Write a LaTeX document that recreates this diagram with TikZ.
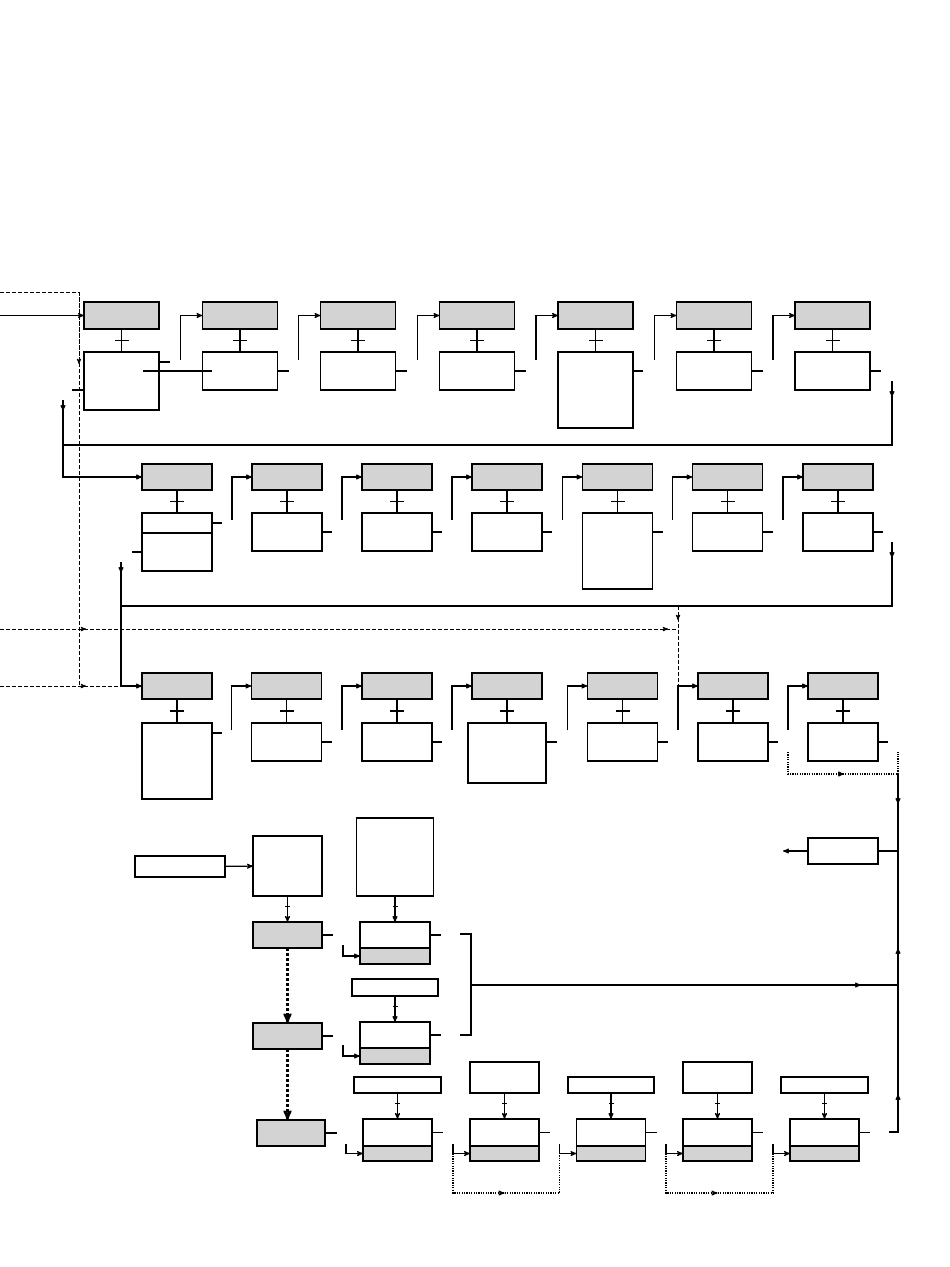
\documentclass[tikz,border=0pt]{standalone}
\usetikzlibrary{arrows}

\definecolor{gris}{HTML}{D3D3D3}
\tikzset{
  etape/.style = {draw = black, fill = gris, line width = 1.1pt, inner sep = 0pt, outer sep = 0pt},
  action/.style = {draw = black, line width = 1.1pt, inner sep = 0pt, outer sep = 0pt},
  trait/.style = {draw, line width = 1.1pt},
  barre/.style = {fill = black, minimum width = 14pt, minimum height = 1.1pt, inner sep = 0pt},
  minibarre/.style = {fill = black, minimum width = 5pt, minimum height = 1.1pt, inner sep = 0pt},
  tirets/.style = {draw, line width = 0.9pt, dash pattern = on 3.5pt off 2.5pt},
  gras/.style = {draw, line width = 2.2pt, dash pattern = on 3pt off 2pt},
  pointille/.style = {draw, line width = 1.8pt, dash pattern = on 1.2pt off 1.2pt}
}

\begin{document}
\begin{tikzpicture}[x = 1pt, y = -1pt]
\useasboundingbox (0, 0) rectangle (950, 1267);

% rangee 1
\node [etape, minimum width = 75pt, minimum height = 27pt] (e11) at (121.5, 315.5) {};
\node [etape, minimum width = 75pt, minimum height = 27pt] (e12) at (240, 315.5) {};
\node [etape, minimum width = 75pt, minimum height = 27pt] (e13) at (358, 315.5) {};
\node [etape, minimum width = 75pt, minimum height = 27pt] (e14) at (477, 315.5) {};
\node [etape, minimum width = 75pt, minimum height = 27pt] (e15) at (595.5, 315.5) {};
\node [etape, minimum width = 75pt, minimum height = 27pt] (e16) at (714, 315.5) {};
\node [etape, minimum width = 75pt, minimum height = 27pt] (e17) at (832.5, 315.5) {};

\node [action, minimum width = 75pt, minimum height = 58pt] (a11) at (121.5, 381) {};
\node [action, minimum width = 75pt, minimum height = 38pt] (a12) at (240, 371) {};
\node [action, minimum width = 75pt, minimum height = 38pt] (a13) at (358, 371) {};
\node [action, minimum width = 75pt, minimum height = 38pt] (a14) at (477, 371) {};
\node [action, minimum width = 75pt, minimum height = 76pt] (a15) at (595.5, 390) {};
\node [action, minimum width = 75pt, minimum height = 38pt] (a16) at (714, 371) {};
\node [action, minimum width = 75pt, minimum height = 38pt] (a17) at (832.5, 371) {};

\path [trait] (e11) -- node [barre] {} (a11);
\path [trait] (e12) -- node [barre] {} (a12);
\path [trait] (e13) -- node [barre] {} (a13);
\path [trait] (e14) -- node [barre] {} (a14);
\path [trait] (e15) -- node [barre] {} (a15);
\path [trait] (e16) -- node [barre] {} (a16);
\path [trait] (e17) -- node [barre] {} (a17);

\path [trait] ([yshift = 19pt] a11.east) -- +(11, 0);
\path [trait] ([xshift = -16pt, yshift = 10pt] a11.east) -- ([xshift = 9pt] a12.west);
\path [trait] ([yshift = -9pt] a11.west) -- +(-12, 0);
\path [trait] (a12.east) -- +(11, 0);
\path [trait] (a13.east) -- +(11, 0);
\path [trait] (a14.east) -- +(11, 0);
\path [trait] ([yshift = 19pt] a15.east) -- +(10, 0);
\path [trait] (a16.east) -- +(11, 0);
\path [trait] (a17.east) -- +(11, 0);

\coordinate (entree) at (0, 315.5);
\path [trait, -stealth'] (entree) -- (e11);
\path [trait, -stealth'] ([xshift = -22pt, yshift = -44pt] e12.west) |- (e12);
\path [trait, -stealth'] ([xshift = -22pt, yshift = -44pt] e13.west) |- (e13);
\path [trait, -stealth'] ([xshift = -22pt, yshift = -44pt] e14.west) |- (e14);
\path [trait, -stealth'] ([xshift = -22pt, yshift = -44pt] e15.west) |- (e15);
\path [trait, -stealth'] ([xshift = -22pt, yshift = -44pt] e16.west) |- (e16);
\path [trait, -stealth'] ([xshift = -22pt, yshift = -44pt] e17.west) |- (e17);

% rangee 2
\node [etape, minimum width = 70pt, minimum height = 26pt] (e21) at (177, 477) {};
\node [etape, minimum width = 70pt, minimum height = 26pt] (e22) at (287, 477) {};
\node [etape, minimum width = 70pt, minimum height = 26pt] (e23) at (397, 477) {};
\node [etape, minimum width = 70pt, minimum height = 26pt] (e24) at (507, 477) {};
\node [etape, minimum width = 70pt, minimum height = 26pt] (e25) at (617.5, 477) {};
\node [etape, minimum width = 70pt, minimum height = 26pt] (e26) at (727.5, 477) {};
\node [etape, minimum width = 70pt, minimum height = 26pt] (e27) at (838, 477) {};

\node [action, minimum width = 70pt, minimum height = 58pt] (a21) at (177, 542) {};
\node [action, minimum width = 70pt, minimum height = 38pt] (a22) at (287, 532) {};
\node [action, minimum width = 70pt, minimum height = 38pt] (a23) at (397, 532) {};
\node [action, minimum width = 70pt, minimum height = 38pt] (a24) at (507, 532) {};
\node [action, minimum width = 70pt, minimum height = 76pt] (a25) at (617.5, 551) {};
\node [action, minimum width = 70pt, minimum height = 38pt] (a26) at (727.5, 532) {};
\node [action, minimum width = 70pt, minimum height = 38pt] (a27) at (838, 532) {};
\path [trait] ([yshift = -20pt] a21.north west) -- ([yshift = -20pt] a21.north east);

\path [trait] (e21) -- node [barre] {} (a21);
\path [trait] (e22) -- node [barre] {} (a22);
\path [trait] (e23) -- node [barre] {} (a23);
\path [trait] (e24) -- node [barre] {} (a24);
\path [trait] (e25) -- node [barre] {} (a25);
\path [trait] (e26) -- node [barre] {} (a26);
\path [trait] (e27) -- node [barre] {} (a27);

\path [trait] ([yshift = 19pt] a21.east) -- +(10, 0);
\path [trait] ([yshift = -10pt] a21.west) -- +(-10, 0);
\path [trait] (a22.east) -- +(10, 0);
\path [trait] (a23.east) -- +(10, 0);
\path [trait] (a24.east) -- +(10, 0);
\path [trait] ([yshift = 19pt] a25.east) -- +(10, 0);
\path [trait] (a26.east) -- +(10, 0);
\path [trait] (a27.east) -- +(10, 0);

\path [trait, -stealth'] ([xshift = -20pt, yshift = -43pt] e22.west) |- (e22);
\path [trait, -stealth'] ([xshift = -20pt, yshift = -43pt] e23.west) |- (e23);
\path [trait, -stealth'] ([xshift = -20pt, yshift = -43pt] e24.west) |- (e24);
\path [trait, -stealth'] ([xshift = -20pt, yshift = -43pt] e25.west) |- (e25);
\path [trait, -stealth'] ([xshift = -20pt, yshift = -43pt] e26.west) |- (e26);
\path [trait, -stealth'] ([xshift = -20pt, yshift = -43pt] e27.west) |- (e27);

% retour rangee 1
\coordinate (r1) at (892, 381);
\coordinate (b1) at (63, 445);
\coordinate (l1) at (63, 400);
\path [trait] (r1) |- (b1);
\path [trait, -stealth'] (r1) -- ++(0, 16);
\path [trait, -stealth'] (l1) |- (e21);
\path [trait, -stealth'] (l1) -- ++(0, 11);

% rangee 3
\node [etape, minimum width = 70pt, minimum height = 26pt] (e31) at (177, 686) {};
\node [etape, minimum width = 70pt, minimum height = 26pt] (e32) at (286.5, 686) {};
\node [etape, minimum width = 70pt, minimum height = 26pt] (e33) at (397, 686) {};
\node [etape, minimum width = 70pt, minimum height = 26pt] (e34) at (507, 686) {};
\node [etape, minimum width = 70pt, minimum height = 26pt] (e35) at (622.5, 686) {};
\node [etape, minimum width = 70pt, minimum height = 26pt] (e36) at (733, 686) {};
\node [etape, minimum width = 70pt, minimum height = 26pt] (e37) at (843, 686) {};

\node [action, minimum width = 70pt, minimum height = 76pt] (a31) at (177, 761) {};
\node [action, minimum width = 70pt, minimum height = 38pt] (a32) at (286.5, 742) {};
\node [action, minimum width = 70pt, minimum height = 38pt] (a33) at (397, 742) {};
\node [action, minimum width = 78pt, minimum height = 60pt] (a34) at (507, 753) {};
\node [action, minimum width = 70pt, minimum height = 38pt] (a35) at (622.5, 742) {};
\node [action, minimum width = 70pt, minimum height = 38pt] (a36) at (733, 742) {};
\node [action, minimum width = 70pt, minimum height = 38pt] (a37) at (843, 742) {};

\path [trait] (e31) -- node [barre] {} (a31);
\path [trait] (e32) -- node [barre] {} (a32);
\path [trait] (e33) -- node [barre] {} (a33);
\path [trait] (e34) -- node [barre] {} (a34);
\path [trait] (e35) -- node [barre] {} (a35);
\path [trait] (e36) -- node [barre] {} (a36);
\path [trait] (e37) -- node [barre] {} (a37);

\path [trait] ([yshift = 28pt] a31.east) -- +(10, 0);
\path [trait] (a32.east) -- +(10, 0);
\path [trait] (a33.east) -- +(10, 0);
\path [trait] ([yshift = 11pt] a34.east) -- +(11, 0);
\path [trait] (a35.east) -- +(10, 0);
\path [trait] (a36.east) -- +(10, 0);
\path [trait] (a37.east) -- +(10, 0);

\path [trait, -stealth'] ([xshift = -20pt, yshift = -44pt] e32.west) |- (e32);
\path [trait, -stealth'] ([xshift = -20pt, yshift = -44pt] e33.west) |- (e33);
\path [trait, -stealth'] ([xshift = -20pt, yshift = -44pt] e34.west) |- (e34);
\path [trait, -stealth'] ([xshift = -20pt, yshift = -44pt] e35.west) |- (e35);
\path [trait, -stealth'] ([xshift = -20pt, yshift = -44pt] e36.west) |- (e36);
\path [trait, -stealth'] ([xshift = -20pt, yshift = -44pt] e37.west) |- (e37);

% retour rangee 2
\coordinate (r2) at (892, 542);
\coordinate (b2) at (121, 606);
\coordinate (l2) at (121, 562);
\path [trait] (r2) |- (b2);
\path [trait, -stealth'] (r2) -- ++(0, 16);
\path [trait, -stealth'] (l2) |- (e31);
\path [trait, -stealth'] (l2) -- ++(0, 11);

% liaisons en tirets
\coordinate (d1) at (0, 292);
\coordinate (d2) at (0, 629);
\coordinate (d3) at (0, 686);
\coordinate (k1) at (79, 686);
\coordinate (m6) at (678, 606);
\path [tirets] (d1) -| (k1);
\path [tirets, -stealth'] (d1 -| k1) -- ++(0, 72);
\path [tirets] (d2) -- (d2 -| m6);
\path [tirets, -stealth'] (d2) -- ++(86, 0);
\path [tirets, -stealth'] (d2) -- ++(668, 0);
\path [tirets] (d3) -- (d3 -| l2);
\path [tirets, -stealth'] (d3) -- ++(86, 0);
\path [tirets] (m6) -- (m6 |- e36);
\path [tirets, -stealth'] (m6) -- ++(0, 14);

% sortie de la rangee 3
\coordinate (p1) at (788, 752);
\coordinate (p2) at (898, 752);
\coordinate (p3) at (898, 774);
\coordinate (v1) at (844, 774);
\path [pointille] (p1) |- (p3) -- (p2);
\path [trait, -stealth'] ([xshift = -3pt] v1) -- (v1);

\node [action, minimum width = 70pt, minimum height = 26pt] (h1) at (843, 851) {};
\coordinate (o1) at (783, 851);
\path [trait] (p3) |- (h1);
\path [trait, -stealth'] (p3) -- ++(0, 30);
\path [trait, -stealth'] (h1) -- (o1);
\coordinate (q1) at (889, 1132);
\path [trait] (q1) -| (p3 |- h1);
\path [trait, -stealth'] (q1 -| p3) -- ++(0, -38);
\path [trait, -stealth'] (q1 -| p3) -- ++(0, -184);

\coordinate (k2) at (460, 934);
\coordinate (k3) at (460, 1035);
\coordinate (k4) at (471, 985);
\path [trait] (k2) -| (k4) |- (k3);
\path [trait] (k4) -- (k4 -| p3);
\path [trait, -stealth'] (k4) -- ++(390, 0);

% partie basse gauche
\node [action, line width = 2.2pt, minimum width = 90pt, minimum height = 21pt] (t0) at (180, 866.5) {};
\node [action, minimum width = 69pt, minimum height = 60pt] (c0) at (287.5, 866) {};
\path [trait, -stealth'] (t0) -- (c0);

\node [etape, minimum width = 69pt, minimum height = 26pt] (s1) at (287.5, 935) {};
\node [etape, minimum width = 69pt, minimum height = 26pt] (s2) at (287.5, 1036) {};
\node [etape, minimum width = 68pt, minimum height = 26pt] (s3) at (291, 1133) {};
\path [trait, -stealth'] (c0) -- node [minibarre, pos = 0.4] {} (s1);
\path [trait] (s1.east) -- +(11, 0);
\path [gras, -stealth'] (s1) -- (s2);
\path [trait] (s2.east) -- +(11, 0);
\path [gras, -stealth'] (s2) -- (s2 |- s3.north);
\path [trait] (s3.east) -- +(12, 0);

\node [action, minimum width = 77pt, minimum height = 78pt] (c1) at (395, 857) {};
\node [action, minimum width = 70pt, minimum height = 26pt] (d1) at (395, 935) {};
\node [etape, minimum width = 70pt, minimum height = 16pt, anchor = north] (d1b) at (d1.south) {};
\path [trait, -stealth'] (c1) -- node [minibarre, pos = 0.4] {} (d1);
\path [trait] (d1.east) -- +(11, 0);
\path [trait, -stealth'] ([xshift = -17pt, yshift = 11pt] d1b.west) |- (d1b);

\node [action, minimum width = 86pt, minimum height = 17pt] (m1) at (395, 987.5) {};
\node [action, minimum width = 70pt, minimum height = 26pt] (d2) at (395, 1035) {};
\node [etape, minimum width = 70pt, minimum height = 16pt, anchor = north] (d2b) at (d2.south) {};
\path [trait, -stealth'] (m1) -- node [minibarre, pos = 0.4] {} (d2);
\path [trait] (d2.east) -- +(11, 0);
\path [trait, -stealth'] ([xshift = -17pt, yshift = 11pt] d2b.west) |- (d2b);

% rangee du bas
\node [action, minimum width = 87pt, minimum height = 16pt] (f1) at (397.5, 1085) {};
\node [action, minimum width = 69pt, minimum height = 31pt] (f2) at (504.5, 1077.5) {};
\node [action, minimum width = 86pt, minimum height = 16pt] (f3) at (611, 1085) {};
\node [action, minimum width = 69pt, minimum height = 31pt] (f4) at (717.5, 1077.5) {};
\node [action, minimum width = 87pt, minimum height = 16pt] (f5) at (824.5, 1085) {};

\node [action, minimum width = 69pt, minimum height = 27pt] (g1) at (397.5, 1132.5) {};
\node [action, minimum width = 69pt, minimum height = 27pt] (g2) at (504.5, 1132.5) {};
\node [action, minimum width = 69pt, minimum height = 27pt] (g3) at (611, 1132.5) {};
\node [action, minimum width = 69pt, minimum height = 27pt] (g4) at (717.5, 1132.5) {};
\node [action, minimum width = 69pt, minimum height = 27pt] (g5) at (824.5, 1132.5) {};
\node [etape, minimum width = 69pt, minimum height = 15pt, anchor = north] (g1b) at (g1.south) {};
\node [etape, minimum width = 69pt, minimum height = 15pt, anchor = north] (g2b) at (g2.south) {};
\node [etape, minimum width = 69pt, minimum height = 15pt, anchor = north] (g3b) at (g3.south) {};
\node [etape, minimum width = 69pt, minimum height = 15pt, anchor = north] (g4b) at (g4.south) {};
\node [etape, minimum width = 69pt, minimum height = 15pt, anchor = north] (g5b) at (g5.south) {};
\path [draw, line width = 2.2pt] (g1.south west) -- (g1.south east);
\path [draw, line width = 2.2pt] (g2.south west) -- (g2.south east);
\path [draw, line width = 2.2pt] (g3.south west) -- (g3.south east);
\path [draw, line width = 2.2pt] (g4.south west) -- (g4.south east);
\path [draw, line width = 2.2pt] (g5.south west) -- (g5.south east);

\path [trait, -stealth'] (f1) -- node [minibarre, pos = 0.4] {} (g1);
\path [trait, -stealth'] (f2) -- node [minibarre, pos = 0.4] {} (g2);
\path [trait, -stealth'] (f3) -- node [minibarre, pos = 0.4] {} (g3);
\path [trait, -stealth'] (f4) -- node [minibarre, pos = 0.4] {} (g4);
\path [trait, -stealth'] (f5) -- node [minibarre, pos = 0.4] {} (g5);

\path [trait] (g1.east) -- +(11, 0);
\path [trait] (g2.east) -- +(11, 0);
\path [trait] (g3.east) -- +(11, 0);
\path [trait] (g4.east) -- +(11, 0);
\path [trait] (g5.east) -- +(11, 0);

\path [trait, -stealth'] ([xshift = -17pt, yshift = 10pt] g1b.west) |- (g1b);
\path [trait, -stealth'] ([xshift = -17pt, yshift = 10pt] g2b.west) |- (g2b);
\path [trait, -stealth'] ([xshift = -17pt, yshift = 10pt] g3b.west) |- (g3b);
\path [trait, -stealth'] ([xshift = -17pt, yshift = 10pt] g4b.west) |- (g4b);
\path [trait, -stealth'] ([xshift = -17pt, yshift = 10pt] g5b.west) |- (g5b);

\coordinate (u1) at (504.5, 1193);
\coordinate (u2) at (717.5, 1193);
\path [pointille] ([xshift = -17pt] g2b.west) |- (u1) -| ([xshift = -17pt, yshift = 10pt] g3b.west);
\path [trait, -stealth'] ([xshift = -3pt] u1) -- (u1);
\path [pointille] ([xshift = -17pt] g4b.west) |- (u2) -| ([xshift = -17pt, yshift = 10pt] g5b.west);
\path [trait, -stealth'] ([xshift = -3pt] u2) -- (u2);
\end{tikzpicture}
\end{document}
